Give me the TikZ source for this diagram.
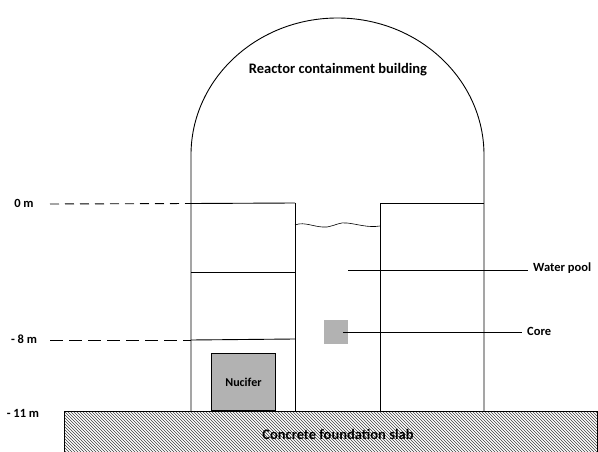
\documentclass[tikz,border=0pt]{standalone}
\usepackage{fontspec}
\setmainfont{Carlito}
\usetikzlibrary{patterns}
\tikzset{
  wall/.style={draw,line width=0.9pt},
  lab/.style={font=\bfseries\fontsize{12.5}{14}\selectfont,inner sep=0pt},
  biglab/.style={font=\bfseries\fontsize{14.5}{16}\selectfont,inner sep=0pt},
  leader/.style={draw,line width=0.7pt},
  level/.style={draw,line width=0.9pt},
  grayblock/.style={draw,fill=black!30,line width=0.9pt,inner sep=0pt}
}
\begin{document}
\begin{tikzpicture}[x=1pt,y=-1pt]
\useasboundingbox (0,0) rectangle (598,452);
% foundation
\node[draw,line width=0.9pt,pattern=north west lines,pattern color=black!75,minimum width=533pt,minimum height=41pt,inner sep=0pt,anchor=north west] (slab) at (64,411) {};
\node[biglab] (slabtext) at (338,434) {Concrete foundation slab};
% building
\coordinate (domel) at (191,155);
\coordinate (domer) at (484,155);
\coordinate (footl) at (191,411);
\coordinate (footr) at (484,411);
\coordinate (innerltop) at (295,203);
\coordinate (innerlfoot) at (295,411);
\coordinate (innerrtop) at (380,203);
\coordinate (innerrfoot) at (380,411);
\draw[wall] (footl) -- (domel) arc[start angle=180,end angle=0,x radius=146.5,y radius=-137] -- (footr);
\draw[wall] (innerlfoot) -- (innerltop);
\draw[wall] (innerrfoot) -- (innerrtop);
% floors
\coordinate (zerol) at (191,203.5);
\coordinate (zeror) at (484,203);
\coordinate (floorl) at (191,272);
\coordinate (floorr) at (295,272);
\coordinate (eightl) at (191,340);
\coordinate (eightr) at (295,339);
\draw[wall] (zerol) -- (innerltop);
\draw[wall] (innerrtop) -- (zeror);
\draw[wall] (floorl) -- (floorr);
\draw[wall] (eightl) -- (eightr);
% water surface
\coordinate (waterl) at (295,225);
\coordinate (waterr) at (380,226);
\draw[line width=0.6pt] (waterl) .. controls (305,221) and (315,228) .. (327,227) .. controls (337,225) and (340,222) .. (347,223) .. controls (357,224) and (368,228) .. (waterr);
% blocks
\node[grayblock,minimum width=64pt,minimum height=57pt,anchor=south west] (nucifer) at (211,411) {};
\node[lab,font=\bfseries\fontsize{12}{14}\selectfont] at (nucifer.center) {Nucifer};
\node[grayblock,draw=none,minimum width=24pt,minimum height=24pt] (core) at (336,332) {};
% labels
\node[biglab] (building) at (338,70) {Reactor containment building};
\node[lab] (zero) at (24,203) {0 m};
\node[lab] (eight) at (24,339) {- 8 m};
\node[lab] (eleven) at (23,413) {- 11 m};
\node[lab,anchor=west] (pool) at (533,268) {Water pool};
\node[lab,anchor=west] (coretext) at (527,331) {Core};
% leaders
\coordinate (zerostart) at (50,204);
\coordinate (eightstart) at (50,340);
\coordinate (poolstart) at (348,270);
\coordinate (poolend) at (528,270);
\coordinate (corestart) at (343,332);
\coordinate (coreend) at (522,332);
\draw[level,dash pattern=on 9pt off 6pt] (zerostart) -- (zerol);
\draw[level,dash pattern=on 13pt off 6pt] (eightstart) -- (eightl);
\draw[leader] (poolstart) -- (poolend);
\draw[leader] (corestart) -- (coreend);
\end{tikzpicture}
\end{document}
